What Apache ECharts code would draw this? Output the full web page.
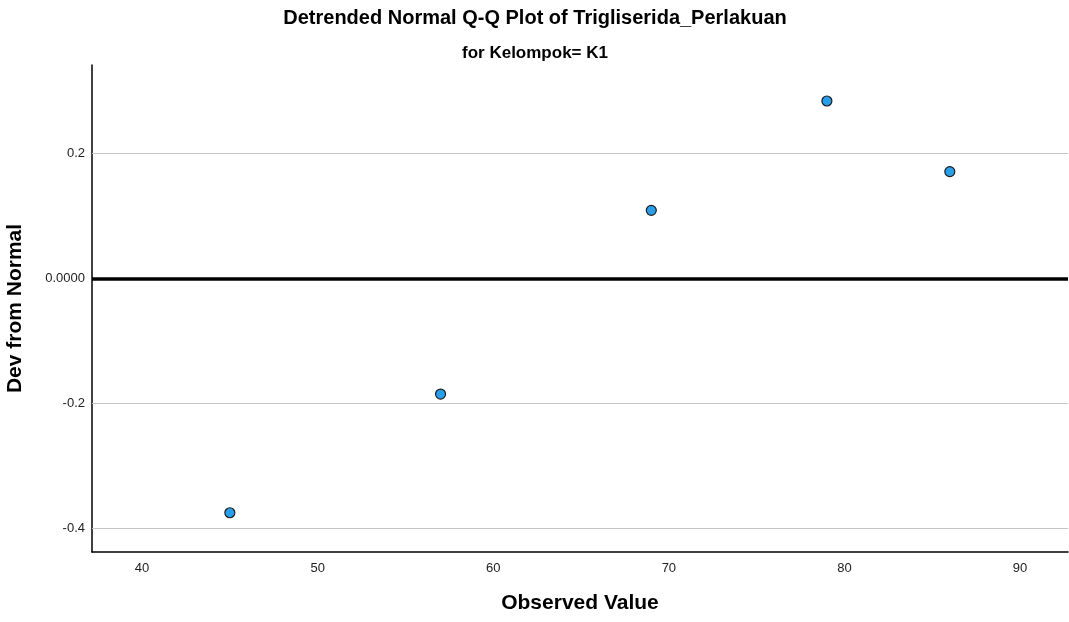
<!DOCTYPE html>
<html><head><meta charset="utf-8">
<script src="https://cdn.jsdelivr.net/npm/echarts@6/dist/echarts.min.js"></script>
<style>html,body{margin:0;padding:0;background:#fff}#c{width:1069px;height:622px}</style>
</head><body><div id="c"></div>
<script>
const observed = [45, 57, 69, 79, 86];
const devFromNormal = [-0.375, -0.185, 0.109, 0.284, 0.171];
const xTicks = [40, 50, 60, 70, 80, 90];
const yTicks = [-0.4, -0.2, 0, 0.2];
const yLabel = v => Math.abs(v) < 1e-9 ? '0.0000' : String(v);
const font = 'Liberation Sans, Arial, sans-serif';
const chart = echarts.init(document.getElementById('c'));
chart.setOption({
  animation: false,
  title: [
    {text: 'Detrended Normal Q-Q Plot of Trigliserida_Perlakuan', left: 530, top: 3, textAlign: 'center',
     textStyle: {fontFamily: font, fontSize: 20, fontWeight: 'bold', color: '#000'}},
    {text: 'for Kelompok= K1', left: 530, top: 40, textAlign: 'center',
     textStyle: {fontFamily: font, fontSize: 17, fontWeight: 'bold', color: '#000'}}
  ],
  grid: {left: 92, right: 1, top: 65, bottom: 70, containLabel: false, outerBoundsMode: 'none'},
  xAxis: {
    type: 'value', min: 37.15, max: 92.73,
    name: 'Observed Value', nameLocation: 'middle', nameGap: 41,
    nameTextStyle: {fontFamily: font, fontSize: 21, fontWeight: 'bold', color: '#000'},
    axisLine: {onZero: false, lineStyle: {color: '#000', width: 1.5}},
    axisTick: {show: false},
    splitLine: {show: false},
    axisLabel: {customValues: xTicks, fontFamily: font, fontSize: 13, color: '#222', margin: 10}
  },
  yAxis: {
    type: 'value', min: -0.4378, max: 0.3416,
    name: 'Dev from Normal', nameLocation: 'middle', nameGap: 66,
    nameTextStyle: {fontFamily: font, fontSize: 21, fontWeight: 'bold', color: '#000'},
    axisLine: {show: true, onZero: false, lineStyle: {color: '#000', width: 1.5}},
    axisTick: {show: false},
    splitLine: {show: false},
    axisLabel: {customValues: yTicks, formatter: yLabel, fontFamily: font, fontSize: 13, color: '#222', margin: 7}
  },
  series: [{
    type: 'scatter',
    data: observed.map((x, i) => [x, devFromNormal[i]]),
    symbol: 'circle', symbolSize: 10,
    itemStyle: {color: '#2a9fe9', borderColor: '#1c1c1c', borderWidth: 1.2, opacity: 1},
    markLine: {
      silent: true, symbol: 'none', label: {show: false},
      data: yTicks.map(v => ({yAxis: v, lineStyle: v === 0 ? {color: '#000', width: 3.5, type: 'solid'} : {color: '#c4c4c4', width: 1, type: 'solid'}}))
    },
    z: 5
  }]
});
</script></body></html>
